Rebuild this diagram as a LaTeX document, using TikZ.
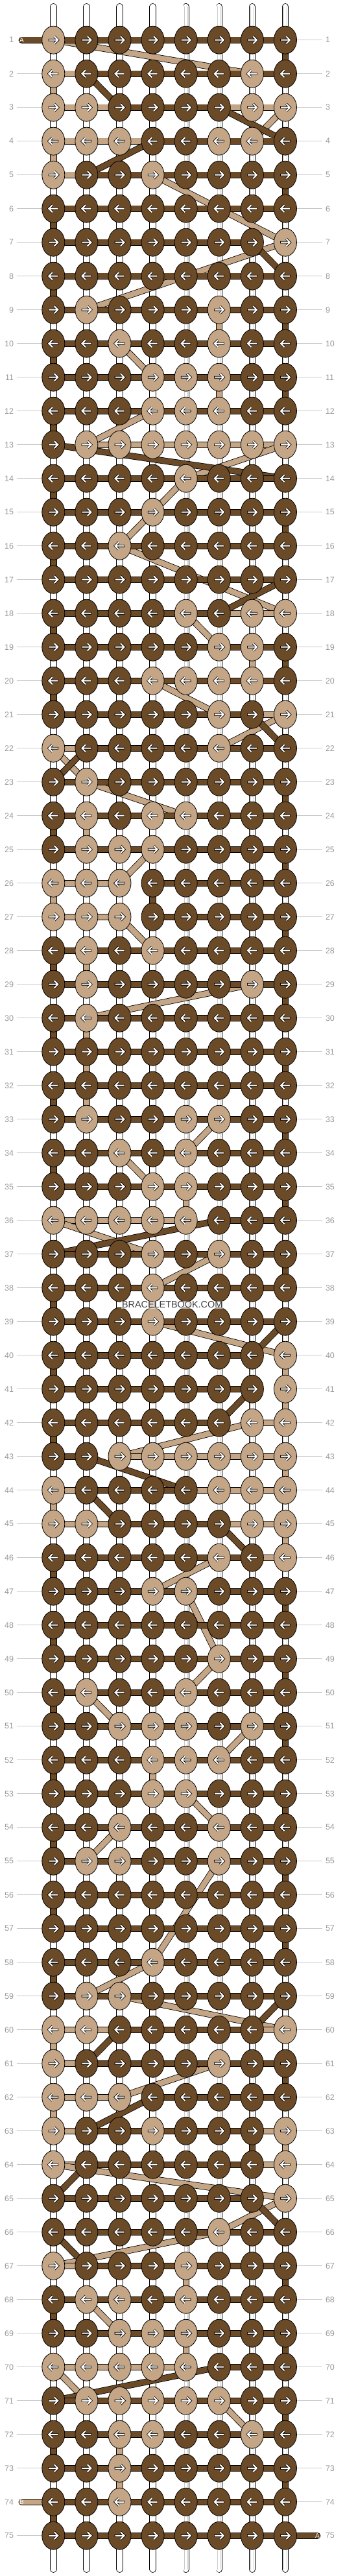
\documentclass[tikz,border=0pt]{standalone}
\usepackage{fontspec}
\setmainfont{Liberation Sans}
\usetikzlibrary{shapes.geometric}
\definecolor{beadD}{HTML}{6B4A28}
\definecolor{beadL}{HTML}{C4A686}
\definecolor{lblgray}{HTML}{9A9A9A}
\definecolor{linegray}{HTML}{C8C8C8}
\pgfdeclarelayer{pipes}
\pgfdeclarelayer{lightstr}
\pgfdeclarelayer{darkstr}
\pgfsetlayers{pipes,lightstr,darkstr,main}
\tikzset{
  knot/.style={ellipse, draw=black, line width=0.8pt, minimum width=35pt, minimum height=43pt, inner sep=0pt},
  arrowout/.style={draw=black, line width=3.6pt},
  arrowin/.style={draw=white, line width=2pt},
  goright/.pic={
    \draw[arrowout] (-7.8pt,0) -- (6pt,0) (1.5pt,5.5pt) -- (7pt,0) -- (1.5pt,-5.5pt);
    \draw[arrowin] (-7pt,0) -- (6pt,0) (1.5pt,5.5pt) -- (7pt,0) -- (1.5pt,-5.5pt);
  },
  goleft/.pic={
    \draw[arrowout] (7.8pt,0) -- (-6pt,0) (-1.5pt,5.5pt) -- (-7pt,0) -- (-1.5pt,-5.5pt);
    \draw[arrowin] (7pt,0) -- (-6pt,0) (-1.5pt,5.5pt) -- (-7pt,0) -- (-1.5pt,-5.5pt);
  },
  strD/.style={draw=black, line width=0.8pt, double=beadD, double distance=8.4pt, line cap=round},
  strL/.style={draw=black, line width=0.8pt, double=beadL, double distance=8.4pt, line cap=round},
  basepipe/.style={draw=black, line width=0.8pt, double=white, double distance=8.8pt, line cap=round},
  pipecore/.style={draw=gray!40, line width=0.6pt, double=white, double distance=4.4pt},
  rowlbl/.style={text=lblgray, font=\fontsize{12.5}{14}\selectfont, inner sep=0pt, outer xsep=5pt},
  rowline/.style={draw=linegray, line width=1pt},
  tailtext/.style={text=white, font=\fontsize{10}{10}\selectfont, inner sep=0pt},
  watermark/.style={text=black!75, font=\fontsize{14.4}{15}\selectfont, fill=white, fill opacity=0.55, text opacity=1, inner sep=1pt}
}
\begin{document}
\begin{tikzpicture}[x=51.1pt, y=-52pt]
\useasboundingbox (-0.6106,-0.1865) rectangle (9.8004,76.198);

% knots, row by row
\foreach \pat [count=\row] in {
 {L,D,D,D,D,D,D,D},{L,D,D,D,D,D,L,D},{L,L,D,D,D,D,L,L},{L,L,L,D,D,L,L,D},{L,D,D,L,D,D,D,D},
 {D,D,D,D,D,D,D,D},{D,D,D,D,D,D,D,L},{D,D,D,D,D,D,D,D},{D,L,D,D,D,L,D,D},{D,D,L,D,D,L,D,D},
 {D,D,D,L,L,L,D,D},{D,D,D,L,L,L,D,D},{D,L,L,L,L,L,L,L},{D,D,D,D,L,D,D,D},{D,D,D,L,D,D,D,D},
 {D,D,L,D,D,D,D,D},{D,D,D,D,D,D,D,D},{D,D,D,D,L,D,L,L},{D,D,D,D,D,L,L,D},{D,D,D,L,L,L,L,D},
 {D,D,D,D,D,L,D,L},{L,D,D,D,D,L,D,D},{D,L,D,D,D,D,D,D},{D,L,D,L,L,D,D,D},{D,L,L,L,D,D,D,D},
 {L,L,L,D,D,D,D,D},{L,L,L,D,D,D,D,D},{D,L,D,L,D,D,D,D},{D,L,D,D,D,D,L,D},{D,L,D,D,D,D,D,D},
 {D,D,D,D,D,D,D,D},{D,D,D,D,D,D,D,D},{D,L,D,D,L,L,D,D},{D,D,L,D,L,D,D,D},{D,D,D,L,L,D,D,D},
 {L,L,L,L,L,D,D,D},{D,D,D,L,D,L,D,D},{D,D,D,L,D,D,D,D},{D,D,D,L,D,D,D,D},{D,D,D,D,D,D,D,L},
 {D,D,D,D,D,D,D,L},{D,D,D,D,D,D,L,L},{D,D,L,L,L,L,L,L},{L,D,D,D,D,L,L,L},{L,L,D,D,D,D,L,L},
 {D,D,D,D,D,L,D,L},{D,D,D,L,L,D,D,D},{D,D,D,D,D,D,D,D},{D,D,D,D,D,L,D,D},{D,L,D,D,L,D,D,D},
 {D,D,L,L,L,D,L,D},{D,D,D,L,L,L,D,D},{D,D,D,L,L,D,D,D},{D,D,L,D,D,L,D,D},{D,L,L,D,D,L,D,D},
 {D,D,D,D,D,D,D,D},{D,D,D,D,D,D,D,D},{D,D,D,L,D,D,D,D},{D,L,L,D,D,D,D,D},{L,L,D,D,D,D,D,L},
 {L,D,D,D,D,L,D,D},{L,L,L,D,D,D,D,D},{L,D,D,L,D,D,D,L},{L,D,D,D,D,D,D,L},{D,D,D,D,D,D,D,L},
 {D,D,D,D,D,L,D,D},{L,D,D,D,L,D,D,D},{D,L,L,D,L,D,D,D},{D,D,L,L,L,D,D,D},{L,L,L,L,L,D,D,D},
 {D,L,L,L,L,L,D,D},{D,D,L,L,D,D,L,D},{D,D,L,D,D,D,D,D},{D,D,L,D,D,D,D,D},{D,D,D,D,D,D,D,D}}{
  \foreach \k [count=\col] in \pat {
    \node[knot, fill=bead\k] (k-\row-\col) at (\col,\row) {};
    \expandafter\xdef\csname kc@\row @\col\endcsname{\k}
    \ifodd\row\relax \pic at (k-\row-\col) {goright};\else \pic at (k-\row-\col) {goleft};\fi
  }
}

\node[tailtext] (a-start) at (0.045,1) {A};
\node[tailtext] (b-end) at (0.045,74) {B};
\node[tailtext] (a-end) at (8.966,75) {A};

% base strings and row numbers
\begin{pgfonlayer}{pipes}
\foreach \col in {1,...,8} {
  \coordinate (pt-\col) at (\col,0.01);
  \coordinate (pb-\col) at (\col,76.0);
  \draw[basepipe] (pt-\col) -- (pb-\col);
  \draw[pipecore] (pt-\col) -- (pb-\col);
}
\foreach \row in {1,...,75} {
  \node[rowlbl, anchor=east] (ll-\row) at (-0.1018,\row) {\row};
  \node[rowlbl, anchor=west] (rl-\row) at (9.1155,\row) {\row};
  \ifnum\row=1\relax\else\ifnum\row=74\relax\else
    \draw[rowline] (ll-\row.east) -- (k-\row-1.center);
  \fi\fi
  \ifnum\row=75\relax\else
    \draw[rowline] (k-\row-8.center) -- (rl-\row.west);
  \fi
}
\end{pgfonlayer}

% string B (light), knot to knot
\begin{pgfonlayer}{lightstr}
\gdef\lastL{}
\foreach \row in {1,...,75} {
  \foreach \i in {1,...,8} {
    \ifodd\row\relax \edef\col{\i}\else \pgfmathtruncatemacro\col{9-\i}\fi
    \edef\kk{\csname kc@\row @\col\endcsname}
    \if L\kk
      \ifx\lastL\empty\else
        \draw[strL] (\lastL) -- (k-\row-\col.center);
      \fi
      \xdef\lastL{k-\row-\col.center}
    \fi
  }
}
\draw[strL] (\lastL) -- (b-end.center);
\end{pgfonlayer}

% string A (dark), knot to knot
\begin{pgfonlayer}{darkstr}
\xdef\lastD{a-start.center}
\foreach \row in {1,...,75} {
  \foreach \i in {1,...,8} {
    \ifodd\row\relax \edef\col{\i}\else \pgfmathtruncatemacro\col{9-\i}\fi
    \edef\kk{\csname kc@\row @\col\endcsname}
    \if D\kk
      \draw[strD] (\lastD) -- (k-\row-\col.center);
      \xdef\lastD{k-\row-\col.center}
    \fi
  }
}
\draw[strD] (\lastD) -- (a-end.center);
\end{pgfonlayer}

\node[watermark] (brand) at (4.589,38.5) {BRACELETBOOK.COM};
\end{tikzpicture}
\end{document}
